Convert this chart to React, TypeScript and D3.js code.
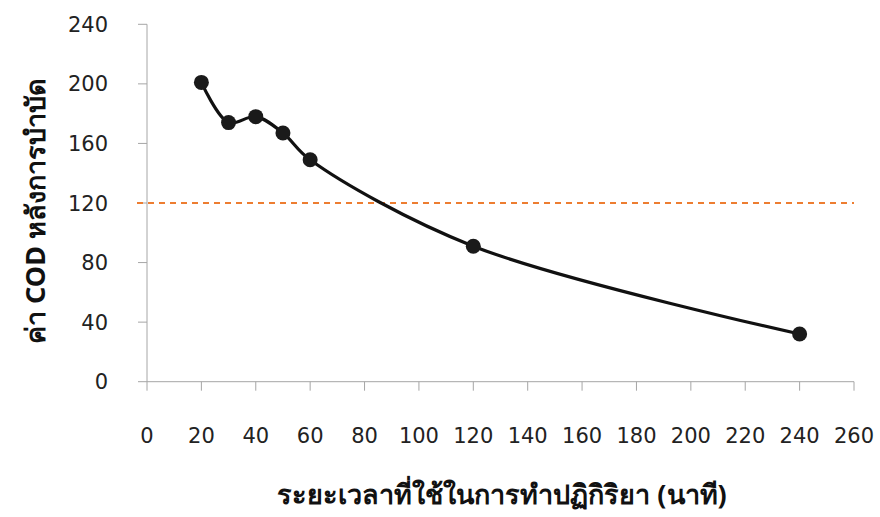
import React from "react";
import * as d3 from "d3";

const times = [20, 30, 40, 50, 60, 120, 240];
const codValues = [201, 174, 178, 167, 149, 91, 32];
const xTicks = [0, 20, 40, 60, 80, 100, 120, 140, 160, 180, 200, 220, 240, 260];
const yTicks = [0, 40, 80, 120, 160, 200, 240];
const standardValue = [120];
const xTitle = "ระยะเวลาที่ใช้ในการทำปฏิกิริยา (นาที)";
const yTitle = "ค่า COD หลังการบำบัด";

const W = 880;
const H = 517;
const TICK_FONT = "'DejaVu Sans', 'Noto Sans', sans-serif";
const TITLE_FONT = "'Noto Sans', 'DejaVu Sans', sans-serif";

export default function App() {
  const x = d3.scaleLinear().domain([0, 260]).range([147, 854]);
  const y = d3.scaleLinear().domain([0, 240]).range([381.7, 24.3]);
  const pts: [number, number][] = times.map((t, i) => [t, codValues[i]]);
  const line = d3
    .line<[number, number]>()
    .x((d) => x(d[0]))
    .y((d) => y(d[1]))
    .curve(d3.curveCatmullRom.alpha(0.5));
  const tick = 9;
  return (
    <svg
      width={W}
      height={H}
      style={{ position: "absolute", left: 0, top: 0, background: "#fff" }}
    >
      <rect x={0} y={0} width={W} height={H} fill="#fff" />
      {/* y axis */}
      <line x1={x(0)} x2={x(0)} y1={y(240)} y2={y(0)} stroke="#a6a6a6" strokeWidth={1} />
      {yTicks.map((t) => (
        <g key={"y" + t}>
          <line x1={x(0) - tick} x2={x(0)} y1={y(t)} y2={y(t)} stroke="#a6a6a6" strokeWidth={1} />
          <text x={108} y={y(t)} dy="0.36em" textAnchor="end" fontSize={21} fill="#222" fontFamily={TICK_FONT}>
            {t}
          </text>
        </g>
      ))}
      {/* x axis */}
      <line x1={x(0)} x2={x(260)} y1={y(0)} y2={y(0)} stroke="#a6a6a6" strokeWidth={1} />
      {xTicks.map((t) => (
        <g key={"x" + t}>
          <line x1={x(t)} x2={x(t)} y1={y(0)} y2={y(0) + tick} stroke="#a6a6a6" strokeWidth={1} />
          <text x={x(t)} y={443} textAnchor="middle" fontSize={21} fill="#222" fontFamily={TICK_FONT}>
            {t}
          </text>
        </g>
      ))}
      {/* standard line */}
      {standardValue.map((v) => (
        <line
          key={"s" + v}
          x1={x(0) - 10}
          x2={x(260)}
          y1={y(v)}
          y2={y(v)}
          stroke="#ED7D31"
          strokeWidth={2}
          strokeDasharray="6,5"
        />
      ))}
      {/* data */}
      <path d={line(pts) || ""} fill="none" stroke="#111" strokeWidth={3.2} />
      {pts.map((p, i) => (
        <circle key={i} cx={x(p[0])} cy={y(p[1])} r={7.5} fill="#1a1a1a" />
      ))}
      {/* titles */}
      <text x={502} y={504} textAnchor="middle" fontSize={27} fontWeight="bold" fill="#111" fontFamily={TITLE_FONT}>
        {xTitle}
      </text>
      <text
        transform={`translate(45, 211) rotate(-90)`}
        textAnchor="middle"
        fontSize={27}
        fontWeight="bold"
        fill="#111"
        fontFamily={TITLE_FONT}
      >
        {yTitle}
      </text>
    </svg>
  );
}
